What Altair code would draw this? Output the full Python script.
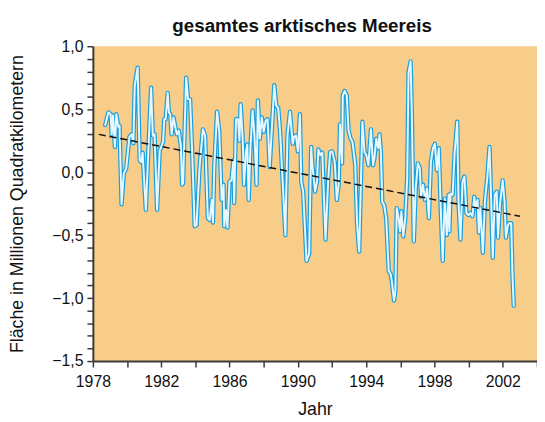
import altair as alt
import pandas as pd

years = [
    1978.72, 1978.91, 1979.04, 1979.10, 1979.18, 1979.29, 1979.37, 1979.49, 1979.56, 1979.68,
    1979.81, 1979.95, 1980.14, 1980.26, 1980.37, 1980.45, 1980.62, 1980.74, 1980.83, 1980.91,
    1981.10, 1981.26, 1981.41, 1981.51, 1981.61, 1981.76, 1981.91, 1982.11, 1982.18, 1982.26,
    1982.38, 1982.45, 1982.53, 1982.61, 1982.72, 1982.84, 1982.92, 1983.03, 1983.15, 1983.22,
    1983.28, 1983.46, 1983.57, 1983.69, 1983.80, 1983.96, 1984.07, 1984.24, 1984.44, 1984.57,
    1984.73, 1984.84, 1984.96, 1985.03, 1985.11, 1985.27, 1985.40, 1985.54, 1985.65, 1985.69,
    1985.79, 1985.88, 1986.00, 1986.11, 1986.23, 1986.27, 1986.38, 1986.50, 1986.58, 1986.65,
    1986.77, 1986.85, 1986.96, 1987.04, 1987.12, 1987.23, 1987.35, 1987.46, 1987.58, 1987.66,
    1987.77, 1987.89, 1988.00, 1988.12, 1988.23, 1988.35, 1988.62, 1988.73, 1988.85, 1988.96,
    1989.12, 1989.27, 1989.39, 1989.54, 1989.70, 1989.77, 1989.89, 1990.00, 1990.12, 1990.20,
    1990.31, 1990.51, 1990.66, 1990.78, 1990.85, 1991.01, 1991.12, 1991.20, 1991.32, 1991.43,
    1991.62, 1991.78, 1991.89, 1992.01, 1992.16, 1992.28, 1992.39, 1992.47, 1992.59, 1992.63,
    1992.74, 1992.86, 1992.97, 1993.09, 1993.20, 1993.36, 1993.47, 1993.59, 1993.78, 1993.90,
    1994.01, 1994.13, 1994.28, 1994.40, 1994.48, 1994.59, 1994.71, 1994.78, 1994.86, 1994.94,
    1995.05, 1995.17, 1995.32, 1995.44, 1995.52, 1995.63, 1995.71, 1995.79, 1995.90, 1995.98,
    1996.06, 1996.17, 1996.29, 1996.40, 1996.48, 1996.60, 1996.67, 1996.79, 1996.90, 1997.02,
    1997.14, 1997.21, 1997.33, 1997.44, 1997.56, 1997.67, 1997.79, 1997.91, 1998.02, 1998.14,
    1998.25, 1998.37, 1998.48, 1998.60, 1998.72, 1998.83, 1998.87, 1998.94, 1999.06, 1999.18,
    1999.33, 1999.41, 1999.52, 1999.64, 1999.75, 1999.87, 1999.98, 2000.10, 2000.22, 2000.33,
    2000.41, 2000.52, 2000.60, 2000.68, 2000.83, 2000.95, 2001.10, 2001.22, 2001.33, 2001.41,
    2001.53, 2001.64, 2001.72, 2001.83, 2001.99, 2002.10, 2002.18, 2002.30, 2002.37, 2002.49,
    2002.57, 2002.64,
]
anomaly = [
    0.375, 0.475, 0.46, 0.30, 0.45, 0.20, 0.46, 0.36, 0.37, -0.255,
    -0.01, 0.03, 0.28, 0.30, 0.23, 0.685, 0.83, 0.095, 0.08, 0.155,
    -0.30, 0.21, 0.67, 0.29, 0.30, -0.30, 0.17, 0.24, 0.42, 0.42,
    0.63, 0.475, 0.46, 0.30, 0.435, 0.345, 0.30, 0.33, 0.21, -0.10,
    -0.09, 0.75, 0.58, 0.58, 0.21, -0.43, -0.42, 0.03, 0.34, 0.29,
    -0.365, -0.38, -0.22, -0.40, 0.055, 0.48, 0.32, -0.22, -0.10, -0.43,
    -0.30, -0.44, -0.075, -0.065, 0.095, -0.245, 0.42, 0.42, 0.25, 0.54,
    0.265, -0.10, 0.16, 0.22, -0.22, 0.21, 0.49, 0.29, -0.10, 0.57,
    0.265, 0.435, 0.32, 0.41, 0.42, 0.04, 0.69, 0.53, 0.51, 0.32,
    -0.10, -0.50, 0.29, 0.48, 0.225, 0.28, 0.29, 0.165, 0.46, -0.075,
    -0.155, -0.705, -0.65, 0.20, 0.055, -0.155, -0.075, 0.18, 0.135, 0.155,
    -0.535, -0.05, 0.16, 0.165, 0.08, -0.22, -0.10, 0.38, 0.07, 0.61,
    0.645, 0.61, 0.33, 0.265, 0.24, 0.055, -0.42, -0.63, 0.40, 0.16,
    0.135, 0.055, 0.34, 0.055, 0.11, 0.265, 0.19, 0.30, 0.16, -0.235,
    -0.26, -0.365, -0.785, -0.81, -0.89, -1.02, -0.94, -0.285, -0.365, -0.47,
    -0.31, -0.51, -0.365, -0.05, 0.79, 0.88, 0.475, -0.55, -0.13, 0.07,
    0.03, -0.195, -0.10, -0.22, -0.13, -0.365, 0.08, 0.19, 0.225, 0.015,
    0.19, -0.31, -0.705, -0.21, -0.50, -0.18, -0.47, -0.17, -0.18, 0.16,
    0.40, -0.26, -0.535, -0.075, -0.035, -0.325, -0.34, -0.325, -0.35, -0.195,
    -0.285, -0.22, -0.48, -0.285, -0.64, -0.235, -0.025, 0.20, -0.285, -0.68,
    -0.18, -0.155, -0.52, -0.26, -0.065, -0.235, -0.52, -0.42, -0.405, -0.405,
    -0.84, -1.06,
]
trend_years = [1978.35, 2003.0]
trend_values = [0.30, -0.35]

x_ticks = list(range(1978, 2005, 2))
y_ticks = [round(-1.5 + 0.1 * i, 1) for i in range(26)]

df = pd.DataFrame({"Jahr": years, "Wert": anomaly})
trend = pd.DataFrame({"Jahr": trend_years, "Wert": trend_values})

FONT = "Liberation Sans"
AXC = "#3a3a3a"

x_enc = alt.X(
    "Jahr:Q",
    scale=alt.Scale(domain=[1978, 2004], nice=False, zero=False),
    axis=alt.Axis(
        title="Jahr",
        values=x_ticks,
        tickCount=60,
        labelExpr="(datum.value - 1978) % 4 == 0 ? format(datum.value, 'd') : ''",
        grid=False,
        tickSize=6,
        labelPadding=7,
        labelFlush=False,
        labelOverlap=False,
        titleY=49,
        titleBaseline="middle",
    ),
)
y_enc = alt.Y(
    "Wert:Q",
    scale=alt.Scale(domain=[-1.5, 1.0], nice=False, zero=False),
    axis=alt.Axis(
        title="Fläche in Millionen Quadratkilometern",
        values=y_ticks,
        tickCount=60,
        labelExpr="abs(round(datum.value * 10)) % 5 == 0 ? replace(format(datum.value, '.1f'), '.', ',') : ''",
        grid=False,
        tickSize=6,
        labelPadding=4,
        labelOverlap=False,
        labelFlush=False,
        titleX=-76,
        titleBaseline="middle",
    ),
)

outer = alt.Chart(df).mark_line(
    color="#1a9fdb", strokeWidth=4.4, strokeJoin="round", strokeCap="round"
).encode(x=x_enc, y=y_enc)
inner = alt.Chart(df).mark_line(
    color="#e8f7fd", strokeWidth=2.0, strokeJoin="round", strokeCap="round"
).encode(x="Jahr:Q", y="Wert:Q")
dashed = alt.Chart(trend).mark_line(
    color="#111111", strokeWidth=1.5, strokeDash=[7, 4]
).encode(x="Jahr:Q", y="Wert:Q")

chart = (
    alt.layer(outer, inner, dashed)
    .properties(
        width=450,
        height=319,
        autosize="none",
        padding={"left": 86, "top": 36, "right": 0, "bottom": 58},
        background="white",
        title=alt.TitleParams(
            "gesamtes arktisches Meereis",
            font=FONT,
            fontSize=19,
            fontWeight="bold",
            color="#111111",
            anchor="middle",
            dx=-13,
            dy=23,
            offset=10,
            baseline="alphabetic",
        ),
    )
    .configure_view(fill="#f8cc89", stroke=None)
    .configure_axis(
        domainColor=AXC,
        domainWidth=2,
        tickColor=AXC,
        tickWidth=1.5,
        labelFont=FONT,
        labelFontSize=16,
        labelColor="#111111",
        titleFont=FONT,
        titleFontSize=18,
        titleFontWeight="normal",
        titleColor="#111111",
    )
)

chart.save("out.html", embed_options={"renderer": "svg", "actions": False})
